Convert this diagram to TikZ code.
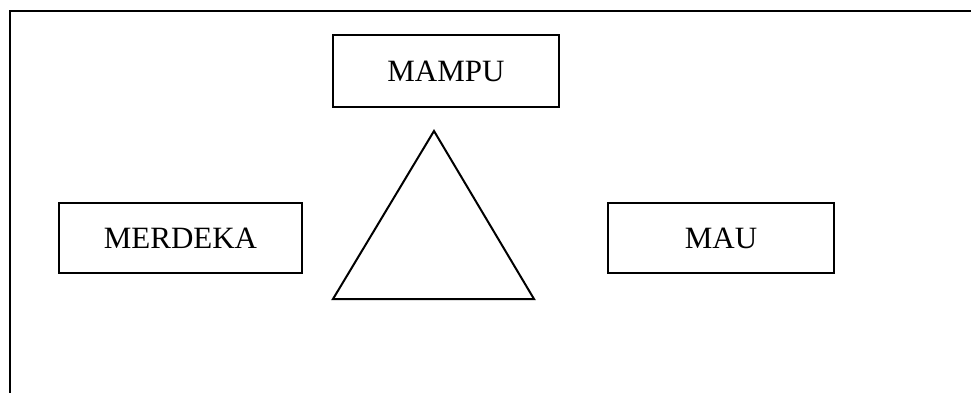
\documentclass[tikz,border=0pt]{standalone}
\usepackage{fontspec}
\setmainfont{Liberation Serif}
\begin{document}
\begin{tikzpicture}[x=1pt,y=-1pt,
  box/.style={draw,line width=2pt,inner sep=0pt,font=\fontsize{31}{37}\selectfont},
  frame/.style={line width=2.5pt},
  tri/.style={line width=2pt,line join=miter}]
\useasboundingbox (0,0) rectangle (971,393);
\coordinate (fbl) at (10,393);
\coordinate (ftl) at (10,11);
\coordinate (ftr) at (971,11);
\draw[frame] (fbl) -- (ftl) -- (ftr);
\node[box,minimum width=226pt,minimum height=72pt] (mampu) at (446,71) {MAMPU};
\node[box,minimum width=243pt,minimum height=70pt] (merdeka) at (180.5,238) {MERDEKA};
\node[box,minimum width=226pt,minimum height=70pt] (mau) at (721,238) {MAU};
\coordinate (apex) at (434,131);
\coordinate (bl) at (333,299);
\coordinate (br) at (534,299);
\draw[tri] (apex) -- (bl) -- (br) -- cycle;
\end{tikzpicture}
\end{document}
